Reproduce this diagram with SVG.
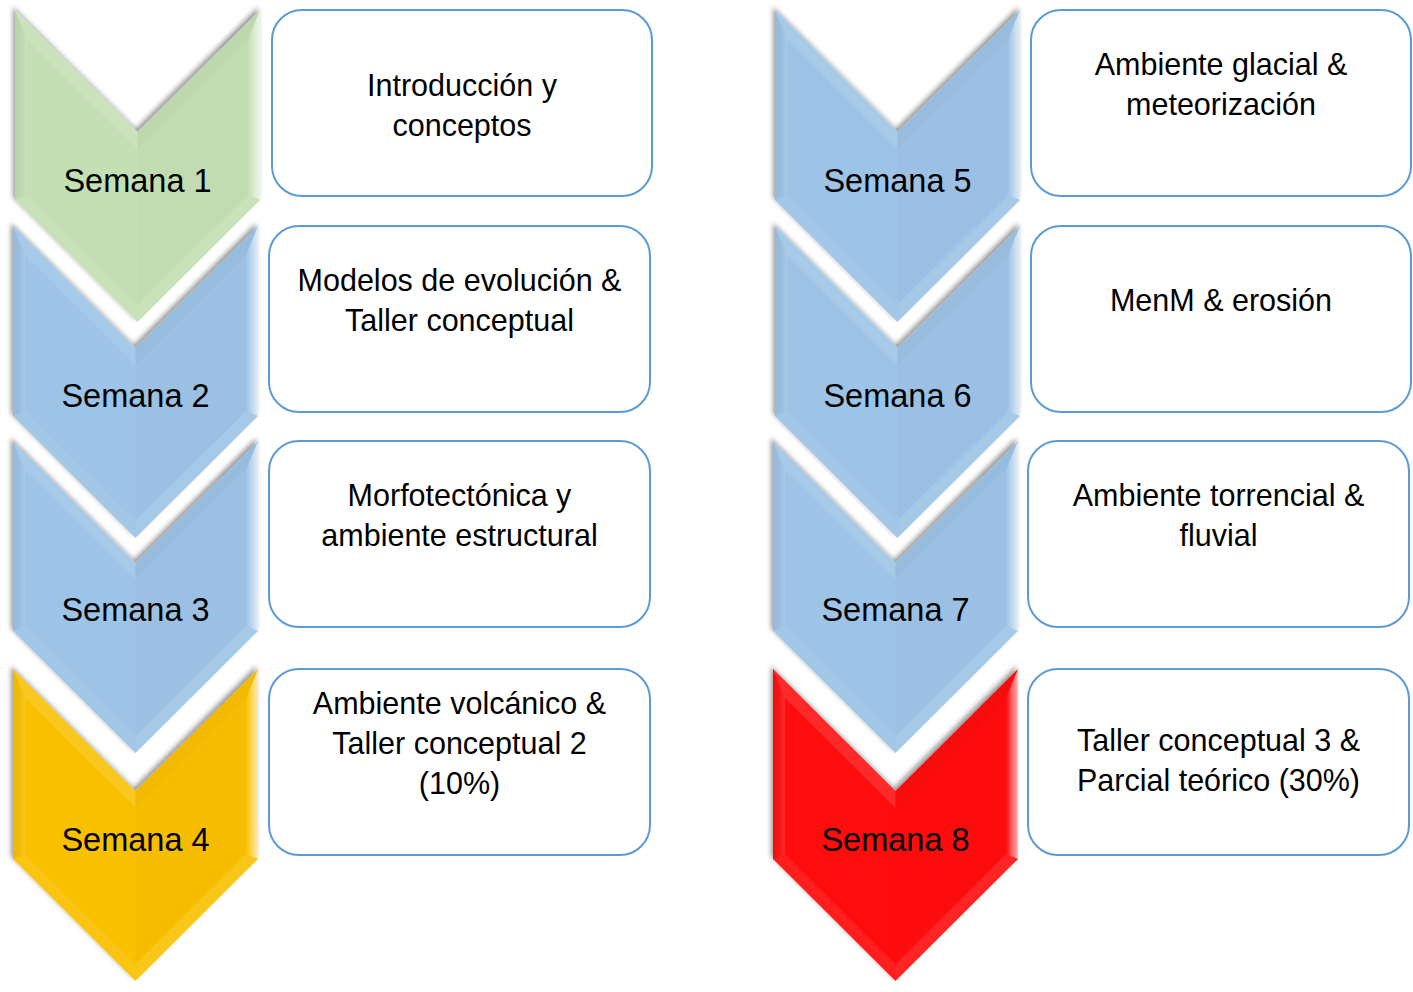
<svg xmlns="http://www.w3.org/2000/svg" width="1413" height="992" viewBox="0 0 1413 992">
  <defs>
    <filter id="sh" x="-10%" y="-10%" width="120%" height="120%">
      <feDropShadow dx="-2" dy="-3" stdDeviation="2.5" flood-color="#000" flood-opacity="0.4"/>
    </filter>
    <linearGradient id="rgt" x1="0" y1="0" x2="1" y2="0">
      <stop offset="0" stop-color="#fff" stop-opacity="0"/>
      <stop offset="1" stop-color="#fff" stop-opacity="0.7"/>
    </linearGradient>
    <linearGradient id="lft" x1="0" y1="0" x2="1" y2="0">
      <stop offset="0" stop-color="#000" stop-opacity="0.04"/>
      <stop offset="1" stop-color="#fff" stop-opacity="0.12"/>
    </linearGradient>
    <g id="facets">
      <polygon points="0,0 12,29 12,185 0,190" fill="url(#lft)"/>
      <polygon points="0,0 122.5,122 122.5,139 12,29" fill="#fff" fill-opacity="0.12"/>
      <polygon points="122.5,122 245,0 233,29 122.5,139" fill="#000" fill-opacity="0.03"/>
      <polygon points="245,0 245,190 233,185 233,29" fill="url(#rgt)"/>
      <polygon points="245,190 122.5,312 122.5,295 233,185" fill="#fff" fill-opacity="0.1"/>
      <polygon points="0,190 12,185 122.5,295 122.5,312" fill="#fff" fill-opacity="0.07"/>
      <polygon points="122.5,139 233,29 233,185 122.5,295" fill="#000" fill-opacity="0.012"/>
    </g>
    <polygon id="chev" points="0,0 122.5,122 245,0 245,190 122.5,312 0,190"/>
  </defs>
  <style>
    .lbl { font-family: "Liberation Sans", Arial, sans-serif; font-size: 32.5px; fill: #000; text-anchor: middle; }
    .box { fill: #fff; stroke: #5B9BD5; stroke-width: 2; }
    .txt { font-family: "Liberation Sans", Arial, sans-serif; font-size: 30.5px; fill: #000; text-anchor: middle; }
    .green { fill: #C4DFB3; }
    .blue { fill: #9DC3E6; }
    .yellow { fill: #F9C000; }
    .red { fill: #FF0A0A; }
  </style>

  <rect width="1413" height="992" fill="#fff"/>

  <g id="connectors"/>

  <!-- Left column chevrons -->
  <g id="semana4" transform="translate(13,669)">
    <use href="#chev" class="yellow" filter="url(#sh)"/>
    <use href="#facets"/>
    <text class="lbl" x="122.5" y="182">Semana 4</text>
  </g>
  <g id="semana3" transform="translate(13,441)">
    <use href="#chev" class="blue" filter="url(#sh)"/>
    <use href="#facets"/>
    <text class="lbl" x="122.5" y="180">Semana 3</text>
  </g>
  <g id="semana2" transform="translate(13,226)">
    <use href="#chev" class="blue" filter="url(#sh)"/>
    <use href="#facets"/>
    <text class="lbl" x="122.5" y="181">Semana 2</text>
  </g>
  <g id="semana1" transform="translate(15,10)">
    <use href="#chev" class="green" filter="url(#sh)"/>
    <use href="#facets"/>
    <text class="lbl" x="122.5" y="182">Semana 1</text>
  </g>

  <!-- Right column chevrons -->
  <g id="semana8" transform="translate(773,669)">
    <use href="#chev" class="red" filter="url(#sh)"/>
    <use href="#facets"/>
    <text class="lbl" x="122.5" y="182">Semana 8</text>
  </g>
  <g id="semana7" transform="translate(773,441)">
    <use href="#chev" class="blue" filter="url(#sh)"/>
    <use href="#facets"/>
    <text class="lbl" x="122.5" y="180">Semana 7</text>
  </g>
  <g id="semana6" transform="translate(775,226)">
    <use href="#chev" class="blue" filter="url(#sh)"/>
    <use href="#facets"/>
    <text class="lbl" x="122.5" y="181">Semana 6</text>
  </g>
  <g id="semana5" transform="translate(775,10)">
    <use href="#chev" class="blue" filter="url(#sh)"/>
    <use href="#facets"/>
    <text class="lbl" x="122.5" y="182">Semana 5</text>
  </g>

  <!-- Text boxes -->
  <g id="box1">
    <rect class="box" x="272" y="10" width="380" height="186" rx="30"/>
    <text class="txt" x="462" y="96">Introducción y</text>
    <text class="txt" x="462" y="136">conceptos</text>
  </g>
  <g id="box2">
    <rect class="box" x="269" y="226" width="381" height="186" rx="30"/>
    <text class="txt" x="459.5" y="291">Modelos de evolución &amp;</text>
    <text class="txt" x="459.5" y="331">Taller conceptual</text>
  </g>
  <g id="box3">
    <rect class="box" x="269" y="441" width="381" height="186" rx="30"/>
    <text class="txt" x="459.5" y="506">Morfotectónica y</text>
    <text class="txt" x="459.5" y="546">ambiente estructural</text>
  </g>
  <g id="box4">
    <rect class="box" x="269" y="669" width="381" height="186" rx="30"/>
    <text class="txt" x="459.5" y="714">Ambiente volcánico &amp;</text>
    <text class="txt" x="459.5" y="754">Taller conceptual 2</text>
    <text class="txt" x="459.5" y="794">(10%)</text>
  </g>
  <g id="box5">
    <rect class="box" x="1031" y="10" width="380" height="186" rx="30"/>
    <text class="txt" x="1221" y="75">Ambiente glacial &amp;</text>
    <text class="txt" x="1221" y="115">meteorización</text>
  </g>
  <g id="box6">
    <rect class="box" x="1031" y="226" width="380" height="186" rx="30"/>
    <text class="txt" x="1221" y="311">MenM &amp; erosión</text>
  </g>
  <g id="box7">
    <rect class="box" x="1028" y="441" width="381" height="186" rx="30"/>
    <text class="txt" x="1218.5" y="506">Ambiente torrencial &amp;</text>
    <text class="txt" x="1218.5" y="546">fluvial</text>
  </g>
  <g id="box8">
    <rect class="box" x="1028" y="669" width="381" height="186" rx="30"/>
    <text class="txt" x="1218.5" y="751">Taller conceptual 3 &amp;</text>
    <text class="txt" x="1218.5" y="791">Parcial teórico (30%)</text>
  </g>
</svg>
